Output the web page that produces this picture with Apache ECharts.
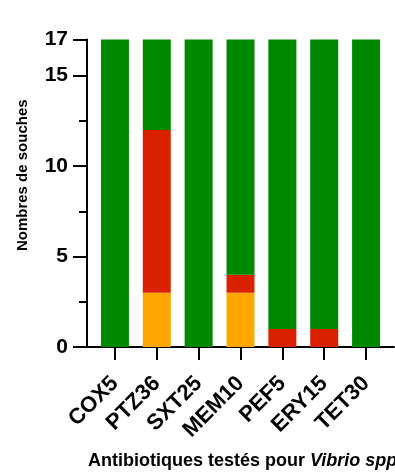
<!DOCTYPE html>
<html>
<head>
<meta charset="utf-8">
<script src="https://cdn.jsdelivr.net/npm/echarts@6/dist/echarts.min.js"></script>
<style>
  html, body { margin: 0; padding: 0; background: #fff; }
  #chart { width: 395px; height: 472px; }
</style>
</head>
<body>
<div id="chart"></div>
<script>
// Antibiotic susceptibility of Vibrio spp strains (number of strains per class)
const categories = ['COX5', 'PTZ36', 'SXT25', 'MEM10', 'PEF5', 'ERY15', 'TET30'];
const intermediate = [0, 3, 0, 3, 0, 0, 0];       // orange, bottom of stack
const resistant    = [0, 9, 0, 1, 1, 1, 0];       // red
const sensitive    = [17, 5, 17, 13, 16, 16, 17]; // green, top of stack
const yMajorTicks = [0, 5, 10, 15, 17];
const yMinorTicks = [2.5, 7.5, 12.5];

const FONT = '"Liberation Sans", Arial, Helvetica, sans-serif';
const TOP = 39.5, BOTTOM = 125;

const barStyle = (color) => ({
  type: 'bar',
  stack: 'total',
  barWidth: 28,
  xAxisIndex: 0,
  yAxisIndex: 0,
  itemStyle: { color: color },
  emphasis: { disabled: true },
  silent: true
});

const chart = echarts.init(document.getElementById('chart'), null, { renderer: 'canvas' });

chart.setOption({
  animation: false,
  backgroundColor: '#ffffff',
  title: {
    text: '{b|Antibiotiques testés pour }{i|Vibrio spp.}',
    left: 83,
    top: 447,
    textStyle: {
      rich: {
        b: { fontFamily: FONT, fontWeight: 'bold', fontSize: 18, color: '#000' },
        i: { fontFamily: FONT, fontWeight: 'bold', fontStyle: 'italic', fontSize: 18, color: '#000' }
      }
    }
  },
  grid: [
    // plotting area for the bars (inset from the axes on both sides)
    { left: 94, right: 8, top: TOP, bottom: BOTTOM, containLabel: false },
    // full-width frame carrying the baseline
    { left: 87, right: 1, top: TOP, bottom: BOTTOM, containLabel: false }
  ],
  xAxis: [
    {
      type: 'category',
      gridIndex: 0,
      data: categories,
      axisLine: { show: false },
      axisTick: { show: true, alignWithLabel: true, length: 13, lineStyle: { color: '#000', width: 2 } },
      axisLabel: {
        show: true,
        interval: 0,
        rotate: 45,
        margin: 33,
        fontFamily: FONT,
        fontWeight: 'bold',
        fontSize: 22,
        color: '#000'
      }
    },
    {
      type: 'value',
      gridIndex: 1,
      min: 0,
      max: 1,
      splitLine: { show: false },
      axisLine: { show: true, onZero: false, lineStyle: { color: '#000', width: 2 } },
      axisTick: { show: false },
      axisLabel: { show: false }
    }
  ],
  yAxis: [
    {
      type: 'value',
      gridIndex: 0,
      position: 'left',
      offset: 7,
      min: 0,
      max: 17,
      name: 'Nombres de souches',
      nameLocation: 'middle',
      nameGap: 57,
      nameMoveOverlap: false,
      nameTextStyle: {
        fontFamily: FONT, fontWeight: 'bold', fontSize: 15, color: '#000',
        padding: [0, 0, 0, 36]
      },
      splitLine: { show: false },
      axisLine: { show: true, onZero: false, lineStyle: { color: '#000', width: 2 } },
      axisTick: { show: true, customValues: yMajorTicks, length: 14, lineStyle: { color: '#000', width: 2 } },
      axisLabel: {
        show: true,
        customValues: yMajorTicks,
        margin: 19,
        fontFamily: FONT,
        fontWeight: 'bold',
        fontSize: 21,
        color: '#000'
      }
    },
    {
      type: 'value',
      gridIndex: 0,
      position: 'left',
      offset: 7,
      min: 0,
      max: 17,
      splitLine: { show: false },
      axisLine: { show: false, onZero: false },
      axisTick: { show: true, customValues: yMinorTicks, length: 8, lineStyle: { color: '#000', width: 2 } },
      axisLabel: { show: false }
    },
    {
      type: 'value',
      gridIndex: 1,
      show: false,
      min: 0,
      max: 1
    }
  ],
  series: [
    Object.assign(barStyle('#ffa600'), { name: 'Intermédiaire', data: intermediate }),
    Object.assign(barStyle('#d92100'), { name: 'Résistant', data: resistant }),
    Object.assign(barStyle('#008800'), { name: 'Sensible', data: sensitive })
  ]
});
</script>
</body>
</html>
